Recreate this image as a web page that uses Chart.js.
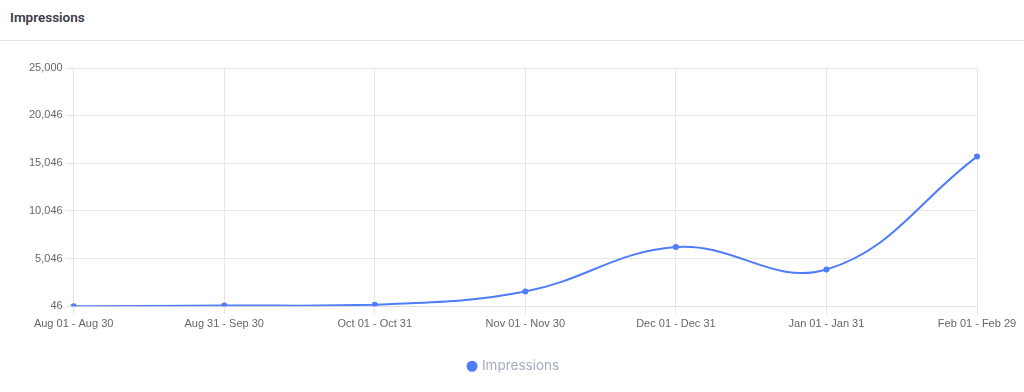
<!DOCTYPE html>
<html>
<head>
<meta charset="utf-8">
<script src="https://cdn.jsdelivr.net/npm/chart.js@4.4.1/dist/chart.umd.min.js"></script>
<style>
  html, body { margin: 0; padding: 0; background: #fff; width: 1024px; height: 392px; overflow: hidden; }
  .hdr { height: 40px; border-bottom: 1px solid #e2e2e2; box-sizing: content-box; position: relative; }
  .hdr span { position: absolute; left: 10px; top: 9px; font-family: Roboto, "Open Sans", sans-serif; font-weight: 600; font-size: 13.5px; color: #3a3a44; }
  .wrap { position: absolute; left: 0; top: 42px; width: 1024px; height: 350px; }
</style>
</head>
<body>
<div class="hdr"><span>Impressions</span></div>
<div class="wrap"><canvas id="c"></canvas></div>
<script>
const categories = ["Aug 01 - Aug 30", "Aug 31 - Sep 30", "Oct 01 - Oct 31", "Nov 01 - Nov 30", "Dec 01 - Dec 31", "Jan 01 - Jan 31", "Feb 01 - Feb 29"];
const impressions = [46, 120, 200, 1600, 6250, 3900, 15720];
const yTicks = [46, 5046, 10046, 15046, 20046, 25000];

new Chart(document.getElementById('c'), {
  type: 'line',
  data: {
    labels: categories,
    datasets: [{
      label: 'Impressions',
      data: impressions,
      borderColor: '#4f7df9',
      backgroundColor: '#4f7df9',
      borderWidth: 2,
      pointRadius: 2,
      pointBackgroundColor: '#4f7df9',
      tension: 0.4,
      fill: false
    }]
  },
  options: {
    responsive: true,
    maintainAspectRatio: false,
    animation: false,
    layout: { padding: { left: 26, right: 22, top: 26, bottom: 9 } },
    plugins: {
      legend: {
        position: 'bottom',
        labels: {
          usePointStyle: true,
          pointStyle: 'circle',
          boxWidth: 6.4, boxHeight: 6.4,
          padding: 26,
          color: '#a3abc4',
          font: { family: 'Inter, Roboto, sans-serif', size: 13.5 }
        }
      },
      tooltip: { enabled: false }
    },
    scales: {
      x: {
        afterFit: (scale) => { scale.paddingRight = 47; },
        grid: { color: '#e6e6e6', tickLength: 8 },
        border: { color: '#e0e0e0' },
        ticks: { color: '#666', font: { family: '"Liberation Sans", Arial, sans-serif', size: 11 }, maxRotation: 0, autoSkip: false }
      },
      y: {
        min: 46,
        max: 25000,
        afterBuildTicks: (scale) => { scale.ticks = yTicks.map(v => ({ value: v })); },
        grid: { color: '#e6e6e6', tickLength: 8 },
        border: { color: '#e0e0e0' },
        ticks: {
          color: '#666',
          font: { family: '"Liberation Sans", Arial, sans-serif', size: 11 },
          callback: (v) => Number(v).toLocaleString('en-US')
        }
      }
    }
  }
});
</script>
</body>
</html>
